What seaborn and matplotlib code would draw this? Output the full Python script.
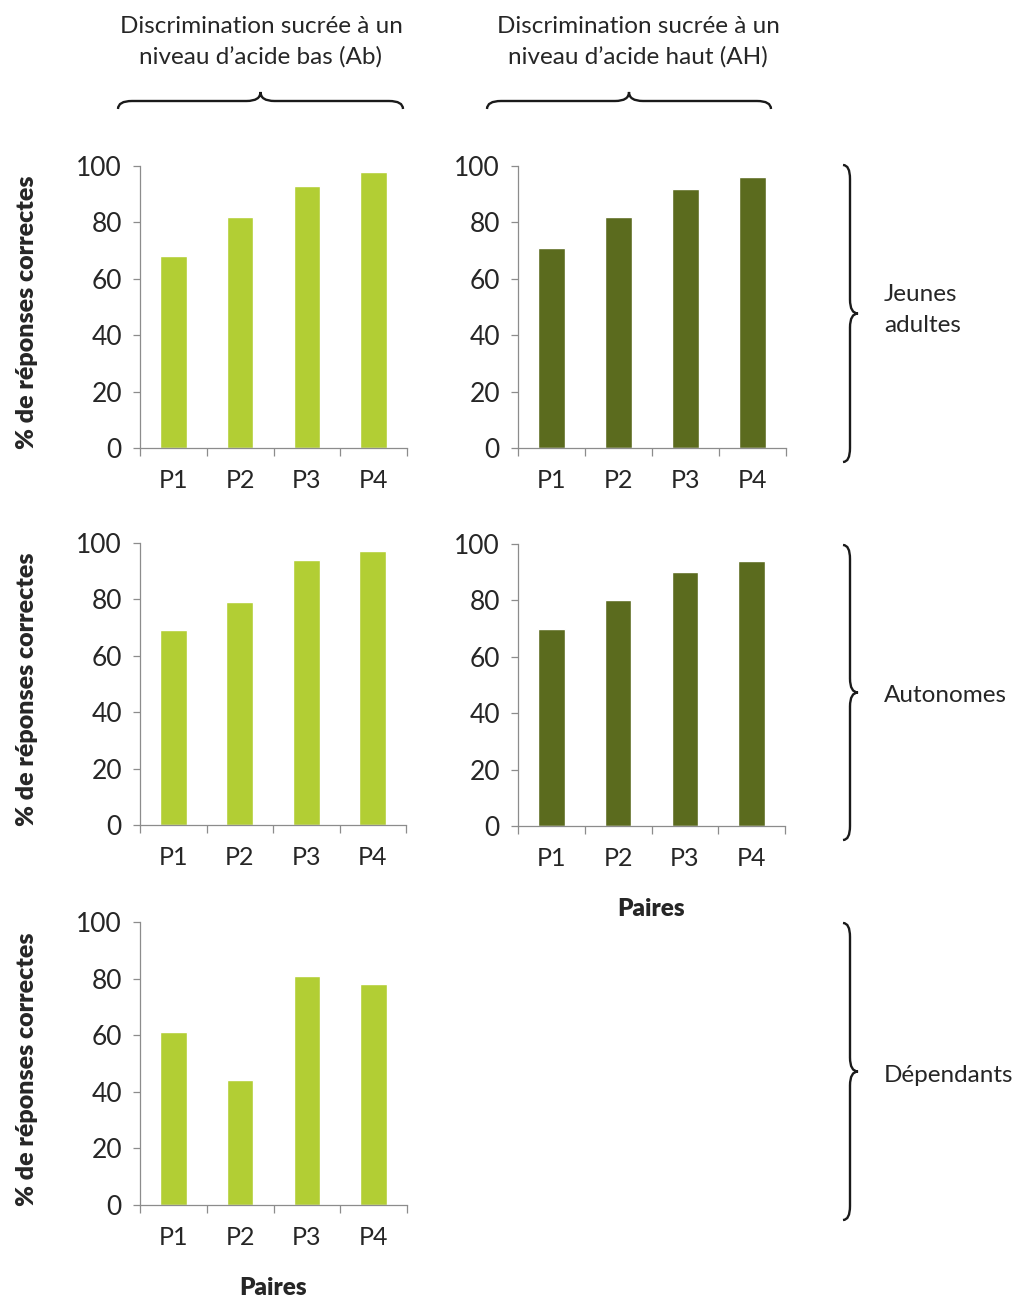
import numpy as np
import pandas as pd
import matplotlib
matplotlib.use('Agg')
import matplotlib.pyplot as plt
from matplotlib.path import Path
from matplotlib.patches import PathPatch
import seaborn as sns

# data
pairs = ['P1', 'P2', 'P3', 'P4']
jeunes_ab = [68, 82, 93, 98]
jeunes_ah = [71, 82, 92, 96]
autonomes_ab = [69, 79, 94, 97]
autonomes_ah = [70, 80, 90, 94]
dependants_ab = [61, 44, 81, 78]

col_titles = ['Discrimination sucrée à un\nniveau d\u2019acide bas (Ab)',
              'Discrimination sucrée à un\nniveau d\u2019acide haut (AH)']
row_labels = ['Jeunes\nadultes', 'Autonomes', 'Dépendants']

light_green = '#B2CE34'
dark_green = '#5B6B1E'
axis_grey = '#8C8C8C'
text_col = '#262626'

sns.set_style('white')
plt.rcParams['font.family'] = ['Lato', 'DejaVu Sans']

W, H = 1018, 1298
fig = plt.figure(figsize=(W / 100, H / 100), dpi=100)


def px_axes(left, top, right, bottom):
    return fig.add_axes([left / W, 1 - bottom / H, (right - left) / W, (bottom - top) / H])


def bar_panel(ax, values, color, ylabel=False, xlabel=False):
    df = pd.DataFrame({'paire': pairs, 'pct': values})
    sns.barplot(data=df, x='paire', y='pct', color=color, width=0.4,
                saturation=1, ax=ax)
    ax.set_xlim(-0.5, 3.5)
    ax.set_ylim(0, 100)
    ax.set_yticks([0, 20, 40, 60, 80, 100])
    ax.set_xticks([-0.5, 0.5, 1.5, 2.5, 3.5], minor=True)
    for s in ['top', 'right']:
        ax.spines[s].set_visible(False)
    for s in ['left', 'bottom']:
        ax.spines[s].set_color(axis_grey)
        ax.spines[s].set_linewidth(0.9)
    ax.tick_params(axis='y', length=5, width=0.9, color=axis_grey,
                   labelsize=19, labelcolor=text_col, pad=8, left=True)
    ax.tick_params(axis='x', which='major', length=0, labelsize=18,
                   labelcolor=text_col, pad=15)
    ax.tick_params(axis='x', which='minor', length=6, width=0.9,
                   color=axis_grey, direction='out', bottom=True)
    ax.set_xlabel('Paires' if xlabel else '', fontsize=17.5, fontweight='heavy',
                  color=text_col, labelpad=20)
    ax.set_ylabel('% de réponses correctes' if ylabel else '', fontsize=18,
                  fontweight='heavy', color=text_col)
    ax.yaxis.set_label_coords(-102 / 267, 0.48)


ax1 = px_axes(140, 166, 407, 448)
bar_panel(ax1, jeunes_ab, light_green, ylabel=True)
ax2 = px_axes(518, 166, 786, 448)
bar_panel(ax2, jeunes_ah, dark_green)
ax3 = px_axes(140, 543, 406, 825)
bar_panel(ax3, autonomes_ab, light_green, ylabel=True)
ax4 = px_axes(518, 544, 785, 826)
bar_panel(ax4, autonomes_ah, dark_green, xlabel=True)
ax5 = px_axes(140, 922, 407, 1205)
bar_panel(ax5, dependants_ab, light_green, ylabel=True, xlabel=True)

# overlay in pixel coordinates for titles, braces and row labels
ov = fig.add_axes([0, 0, 1, 1], zorder=-1)
ov.set_xlim(0, W)
ov.set_ylim(H, 0)
ov.axis('off')


def hbrace(x0, x1, yb, r=14, tip=9, hook=8):
    xm = (x0 + x1) / 2
    verts = [(x0, yb + hook), (x0, yb), (x0 + r, yb), (xm - r, yb),
             (xm, yb), (xm, yb - tip), (xm, yb), (xm + r, yb),
             (x1 - r, yb), (x1, yb), (x1, yb + hook)]
    codes = [Path.MOVETO, Path.CURVE3, Path.CURVE3, Path.LINETO,
             Path.CURVE3, Path.CURVE3, Path.CURVE3, Path.CURVE3,
             Path.LINETO, Path.CURVE3, Path.CURVE3]
    ov.add_patch(PathPatch(Path(verts, codes), fc='none', ec='#1a1a1a', lw=1.7))


def vbrace(y0, y1, xb, r=14, tip=8, hook=7):
    ym = (y0 + y1) / 2
    verts = [(xb - hook, y0), (xb, y0), (xb, y0 + r), (xb, ym - r),
             (xb, ym), (xb + tip, ym), (xb, ym), (xb, ym + r),
             (xb, y1 - r), (xb, y1), (xb - hook, y1)]
    codes = [Path.MOVETO, Path.CURVE3, Path.CURVE3, Path.LINETO,
             Path.CURVE3, Path.CURVE3, Path.CURVE3, Path.CURVE3,
             Path.LINETO, Path.CURVE3, Path.CURVE3]
    ov.add_patch(PathPatch(Path(verts, codes), fc='none', ec='#1a1a1a', lw=1.7))


ov.text(261, 42, col_titles[0], ha='center', va='center', fontsize=17.5,
        color=text_col, linespacing=1.55)
ov.text(638, 42, col_titles[1], ha='center', va='center', fontsize=17.5,
        color=text_col, linespacing=1.55)
hbrace(118, 403, 101)
hbrace(487, 771, 101)

vbrace(165, 462, 850)
vbrace(545, 840, 850)
vbrace(923, 1220, 850)
ov.text(884, 310, row_labels[0], ha='left', va='center', fontsize=17.5,
        color=text_col, linespacing=1.55)
ov.text(884, 695, row_labels[1], ha='left', va='center', fontsize=17.5,
        color=text_col)
ov.text(884, 1075, row_labels[2], ha='left', va='center', fontsize=17.5,
        color=text_col)

fig.savefig('out.png', dpi=100, facecolor='white')
